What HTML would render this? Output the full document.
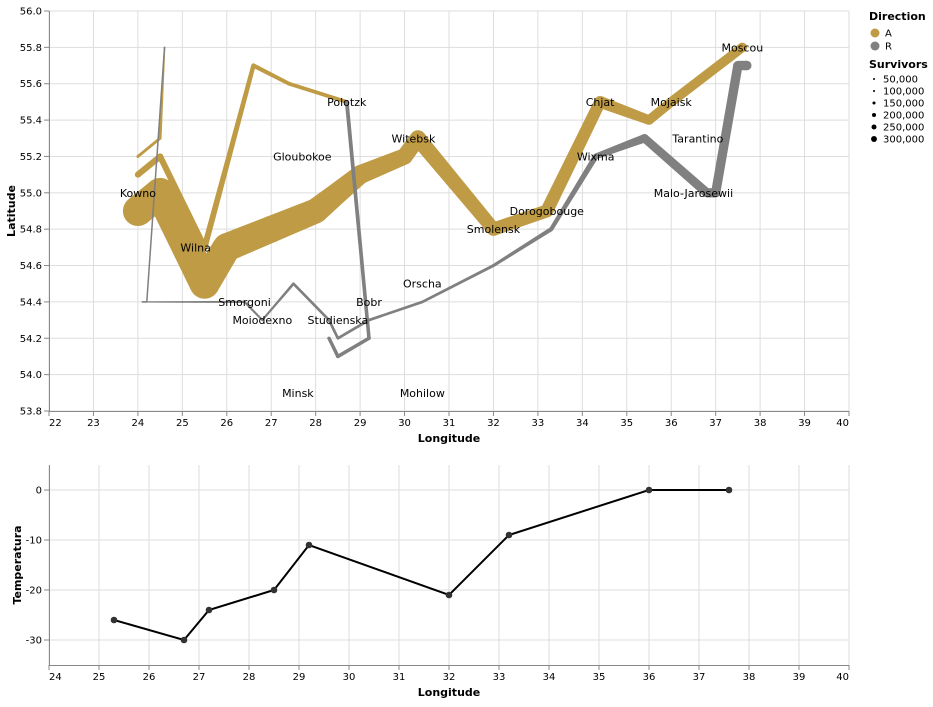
<!DOCTYPE html>
<html><head><meta charset="utf-8">
<style>
body{margin:0;background:#fff;font-family:"DejaVu Sans","Liberation Sans",sans-serif;}
svg text{font-family:"DejaVu Sans","Liberation Sans",sans-serif;}
</style></head>
<body>
<svg id="chart" width="933" height="703" xmlns="http://www.w3.org/2000/svg"></svg>
<script>
// ---- data ----
const troopLon=[24.0,24.5,25.5,26.0,27.0,28.0,28.5,29.0,30.0,30.3,32.0,33.2,34.4,35.5,36.0,37.6,37.7,37.5,37.0,36.8,35.4,34.3,33.3,32.0,30.4,29.2,28.5,28.3,27.5,26.8,26.4,25.0,24.4,24.2,24.1,24.0,24.5,25.5,26.6,27.4,28.7,28.7,29.2,28.5,28.3,24.0,24.5,24.6,24.6,24.2,24.1];
const troopLat=[54.9,55.0,54.5,54.7,54.8,54.9,55.0,55.1,55.2,55.3,54.8,54.9,55.5,55.4,55.5,55.8,55.7,55.7,55.0,55.0,55.3,55.2,54.8,54.6,54.4,54.3,54.2,54.3,54.5,54.3,54.4,54.4,54.4,54.4,54.4,55.1,55.2,54.7,55.7,55.6,55.5,55.5,54.2,54.1,54.2,55.2,55.3,55.8,55.8,54.4,54.4];
const troopSurv=[340000,340000,340000,320000,300000,280000,240000,210000,180000,175000,145000,140000,127100,100000,100000,100000,100000,98000,97000,96000,87000,55000,37000,24000,20000,20000,20000,20000,20000,12000,14000,8000,4000,4000,4000,60000,60000,60000,40000,33000,33000,33000,30000,30000,28000,22000,22000,6000,6000,6000,6000];
const troopDir=["A","A","A","A","A","A","A","A","A","A","A","A","A","A","A","A","R","R","R","R","R","R","R","R","R","R","R","R","R","R","R","R","R","R","R","A","A","A","A","A","A","R","R","R","R","A","A","A","R","R","R"];
const troopGroup=[1,1,1,1,1,1,1,1,1,1,1,1,1,1,1,1,1,1,1,1,1,1,1,1,1,1,1,1,1,1,1,1,1,1,1,2,2,2,2,2,2,2,2,2,2,3,3,3,3,3,3];
const cityNames=["Kowno","Wilna","Smorgoni","Moiodexno","Gloubokoe","Minsk","Studienska","Polotzk","Bobr","Witebsk","Orscha","Mohilow","Smolensk","Dorogobouge","Wixma","Chjat","Mojaisk","Moscou","Tarantino","Malo-Jarosewii"];
const cityLon=[24.0,25.3,26.4,26.8,27.7,27.6,28.5,28.7,29.2,30.2,30.4,30.4,32.0,33.2,34.3,34.4,36.0,37.6,36.6,36.5];
const cityLat=[55.0,54.7,54.4,54.3,55.2,53.9,54.3,55.5,54.4,55.3,54.5,53.9,54.8,54.9,55.2,55.5,55.5,55.8,55.3,55.0];
const tempLon=[37.6,36.0,33.2,32.0,29.2,28.5,27.2,26.7,25.3];
const tempVal=[0,0,-9,-21,-11,-20,-24,-30,-26];
const sizeLegend=[50000,100000,150000,200000,250000,300000];
const dirNames=["A","R"];
const dirColors={A:"#bf9b45",R:"#808080"};

const svg=document.getElementById('chart');
const NS="http://www.w3.org/2000/svg";
function mk(tag,attrs,parent){const e=document.createElementNS(NS,tag);for(const k in attrs)e.setAttribute(k,attrs[k]);(parent||svg).appendChild(e);return e;}

const X1=v=>49+(v-22)/18*800, Y1=v=>411-(v-53.8)/2.2*400;
const X2=v=>49+(v-24)/16*800, Y2=v=>665-(v+35)/40*200;
const W=s=>1+s/340000*29;
const anchorFor=(v,a,b)=>v===a?'start':(v===b?'end':'middle');

// ---- map plot ----
const mapG=mk('g',{});


for(let v=22;v<=40;v++){mk('line',{x1:X1(v),x2:X1(v),y1:11,y2:411,stroke:'#ddd'},mapG);}
for(let i=0;i<=11;i++){const v=53.8+i*0.2;mk('line',{x1:49,x2:849,y1:Y1(v),y2:Y1(v),stroke:'#ddd'},mapG);}
mk('line',{x1:49,x2:849,y1:411.5,y2:411.5,stroke:'#888'},mapG);
mk('line',{x1:49.5,x2:49.5,y1:11,y2:411,stroke:'#888'},mapG);
for(let v=22;v<=40;v++){mk('line',{x1:X1(v),x2:X1(v),y1:411,y2:416,stroke:'#888'},mapG);
 const t=mk('text',{x:X1(v),y:426,'font-size':10,'text-anchor':anchorFor(v,22,40),fill:'#000'},mapG);t.textContent=v;
 }
for(let i=0;i<=11;i++){const v=53.8+i*0.2;mk('line',{x1:44,x2:49,y1:Y1(v),y2:Y1(v),stroke:'#888'},mapG);
 const t=mk('text',{x:42,y:Y1(v)+3.5,'font-size':10,'text-anchor':'end'},mapG);t.textContent=v.toFixed(1);
 }
let tt=mk('text',{x:449,y:442,'font-size':11,'font-weight':'bold','text-anchor':'middle'},mapG);tt.textContent='Longitude';

tt=mk('text',{x:15,y:211,'font-size':11,'font-weight':'bold','text-anchor':'middle',transform:'rotate(-90 15 211)'},mapG);tt.textContent='Latitude';


const keys=[];
for(let i=0;i<troopLon.length;i++){const k=troopGroup[i]+'-'+troopDir[i];if(!keys.includes(k))keys.push(k);}
keys.forEach(k=>{
 const idx=[];for(let i=0;i<troopLon.length;i++)if(troopGroup[i]+'-'+troopDir[i]===k)idx.push(i);
 const col=dirColors[troopDir[idx[0]]];
 const g=mk('g',{fill:col},mapG);
 
 
 for(let j=0;j<idx.length;j++){
  const a=idx[j];const x=X1(troopLon[a]),y=Y1(troopLat[a]),r=W(troopSurv[a])/2;
  mk('circle',{cx:x,cy:y,r:r},g);
  if(j<idx.length-1){const b=idx[j+1];const x2=X1(troopLon[b]),y2=Y1(troopLat[b]),r2=W(troopSurv[b])/2;
   const dx=x2-x,dy=y2-y,L=Math.hypot(dx,dy)||1,nx=-dy/L,ny=dx/L;
   mk('polygon',{points:`${x+nx*r},${y+ny*r} ${x2+nx*r2},${y2+ny*r2} ${x2-nx*r2},${y2-ny*r2} ${x-nx*r},${y-ny*r}`},g);}
 }
});
for(let i=0;i<cityNames.length;i++){
 const c=mk('text',{x:X1(cityLon[i]),y:Y1(cityLat[i])+4,'font-size':11,'text-anchor':'middle'},mapG);
 c.textContent=cityNames[i];
 
 
}

// legend
const lg=mk('g',{});


tt=mk('text',{x:869,y:20,'font-size':11,'font-weight':'bold'},lg);tt.textContent='Direction';
dirNames.forEach((d,i)=>{mk('circle',{cx:875,cy:33+i*13,r:4.5,fill:dirColors[d]},lg);
 const e=mk('text',{x:885,y:36.5+i*13,'font-size':10},lg);e.textContent=d;
 });
tt=mk('text',{x:869,y:68,'font-size':11,'font-weight':'bold'},lg);tt.textContent='Survivors';
sizeLegend.forEach((s,i)=>{mk('circle',{cx:874,cy:79+i*12,r:Math.max(1,W(s)/9),fill:'#000'},lg);
 const e=mk('text',{x:883,y:82.5+i*12,'font-size':10},lg);e.textContent=s.toLocaleString('en-US');
 });

// ---- temperature plot ----
const tempG=mk('g',{});


for(let v=24;v<=40;v++)mk('line',{x1:X2(v),x2:X2(v),y1:465,y2:665,stroke:'#ddd'},tempG);
for(let v=-30;v<=0;v+=10)mk('line',{x1:49,x2:849,y1:Y2(v),y2:Y2(v),stroke:'#ddd'},tempG);
mk('line',{x1:49,x2:849,y1:665.5,y2:665.5,stroke:'#888'},tempG);
mk('line',{x1:49.5,x2:49.5,y1:465,y2:665,stroke:'#888'},tempG);
for(let v=24;v<=40;v++){mk('line',{x1:X2(v),x2:X2(v),y1:665,y2:670,stroke:'#888'},tempG);
 const e=mk('text',{x:X2(v),y:680,'font-size':10,'text-anchor':anchorFor(v,24,40)},tempG);e.textContent=v;
 }
for(let v=-30;v<=0;v+=10){mk('line',{x1:44,x2:49,y1:Y2(v),y2:Y2(v),stroke:'#888'},tempG);
 const e=mk('text',{x:42,y:Y2(v)+3.5,'font-size':10,'text-anchor':'end'},tempG);e.textContent=v;
 }
tt=mk('text',{x:449,y:696,'font-size':11,'font-weight':'bold','text-anchor':'middle'},tempG);tt.textContent='Longitude';

tt=mk('text',{x:21,y:565,'font-size':11,'font-weight':'bold','text-anchor':'middle',transform:'rotate(-90 21 565)'},tempG);tt.textContent='Temperatura';

const order=tempLon.map((v,i)=>i).sort((a,b)=>tempLon[a]-tempLon[b]);
const ln=mk('polyline',{points:order.map(i=>X2(tempLon[i])+','+Y2(tempVal[i])).join(' '),fill:'none',stroke:'#000','stroke-width':2},tempG);

order.forEach(i=>{const p=mk('circle',{cx:X2(tempLon[i]),cy:Y2(tempVal[i]),r:3.3,fill:'#333'},tempG);
 });
</script>
</body></html>
